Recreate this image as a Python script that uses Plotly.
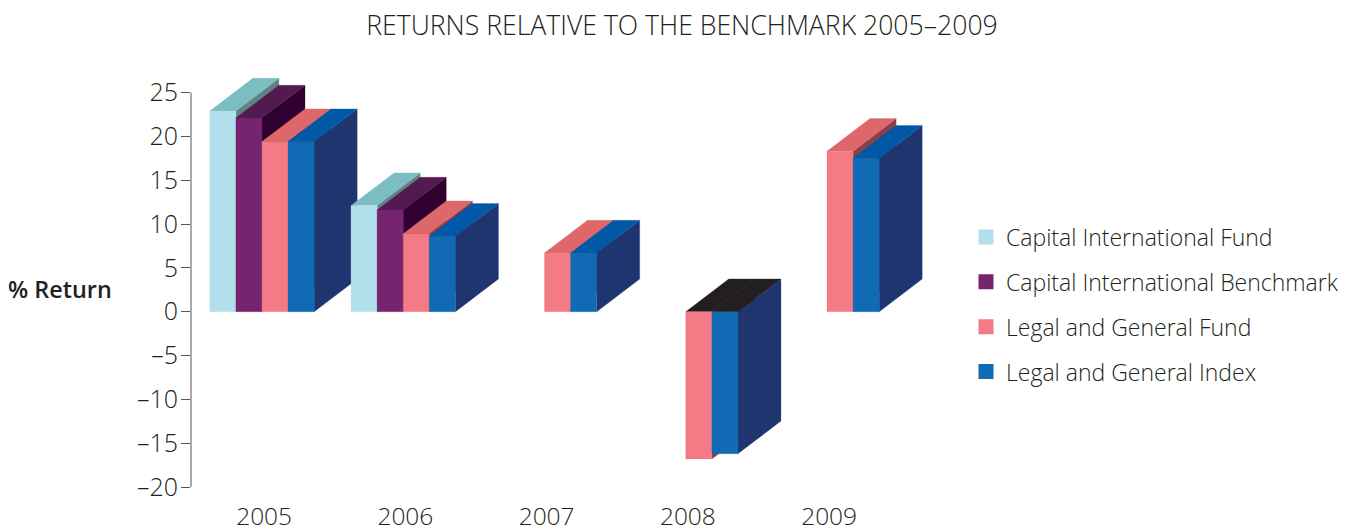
import plotly.graph_objects as go

TITLE = "RETURNS RELATIVE TO THE BENCHMARK 2005–2009"
YEARS = [2005, 2006, 2007, 2008, 2009]
SERIES = ["Capital International Fund", "Capital International Benchmark",
          "Legal and General Fund", "Legal and General Index"]
CAPITAL_FUND = [22.9, 12.1, None, None, None]
CAPITAL_BENCH = [22.1, 11.6, None, None, None]
LEGAL_FUND = [19.4, 8.9, 6.7, -16.8, 18.3]
LEGAL_INDEX = [19.4, 8.6, 6.7, -16.2, 17.5]
VALUES = [CAPITAL_FUND, CAPITAL_BENCH, LEGAL_FUND, LEGAL_INDEX]

Y_TICKS = [25, 20, 15, 10, 5, 0, -5, -10, -15, -20]
Y_LABELS = ["25", "20", "15", "10", "5", "0", "–5", "–10", "–15", "–20"]

FRONT = ["#b1e0ec", "#77246f", "#f47b85", "#106ab4"]
TOP = ["#7cbdc2", "#521a50", "#de676a", "#0058a6"]
SIDE = ["#5f8285", "#2f0030", "#8b3f48", "#1e3570"]
TOP_NEG = "#231f20"
INK = "#231f20"
AXIS = "#555555"
FONT = "Open Sans"

# geometry, in axis units
PX_X = 141.25           # px per year
BAR = 26.1 / PX_X       # bar width
DX = 43 / PX_X          # depth offset, x
DY = 3.73               # depth offset, y
Y_MAX = 27              # head-room for the depth faces above the 25 tick
X_MIN = 2005 - 71 / PX_X

fig = go.Figure()


def poly(xs, ys, color):
    fig.add_trace(go.Scatter(
        x=xs + xs[:1], y=ys + ys[:1], mode="lines", fill="toself",
        fillcolor=color, line=dict(color=color, width=0.3),
        showlegend=False, hoverinfo="skip"))


for yi, year in enumerate(YEARS):
    for si in range(4):
        v = VALUES[si][yi]
        if v is None:
            continue
        x0 = year + (si - 2) * BAR
        x1 = x0 + BAR
        hi = max(v, 0)
        lo = min(v, 0)
        poly([x1, x1 + DX, x1 + DX, x1], [lo, lo + DY, hi + DY, hi], SIDE[si])
        poly([x0, x1, x1 + DX, x0 + DX], [hi, hi, hi + DY, hi + DY],
             TOP[si] if v >= 0 else TOP_NEG)
        poly([x0, x1, x1, x0], [lo, lo, hi, hi], FRONT[si])

for si, name in enumerate(SERIES):
    fig.add_trace(go.Scatter(
        x=[None], y=[None], mode="markers", name=name, legendgroup=name,
        marker=dict(symbol="square", size=15, color=FRONT[si])))

fig.update_layout(
    width=1362, height=532,
    margin=dict(l=191, r=412, t=75.2, b=45.3, autoexpand=False),
    paper_bgcolor="white", plot_bgcolor="white",
    font=dict(family=FONT, color=INK, size=22),
    title=dict(text=TITLE, x=682 / 1362, xanchor="center", y=1 - 26 / 532, yanchor="middle",
               font=dict(family=FONT, size=26.6, color=INK, weight=300)),
    xaxis=dict(range=[X_MIN, X_MIN + 759 / PX_X],
               tickvals=[y + 0.015 for y in YEARS], ticktext=[str(y) for y in YEARS],
               showgrid=False, zeroline=False, showline=False, ticks="", automargin=False,
               ticklabelstandoff=12, tickfont=dict(size=24.5, color=INK, weight=300)),
    yaxis=dict(range=[-20, Y_MAX], tickvals=Y_TICKS, ticktext=Y_LABELS, automargin=False,
               showgrid=False, zeroline=False, showline=False,
               ticks="outside", ticklen=9, tickcolor=AXIS, tickwidth=1, ticklabelstandoff=-2,
               tickfont=dict(size=25, color=INK, weight=300)),
    shapes=[dict(type="line", xref="x domain", yref="y", x0=0, x1=0, y0=-20, y1=25,
                 line=dict(color=AXIS, width=1), layer="above")],
    legend=dict(x=(966 - 191) / 759, xref="paper", y=(486.7 - 215.5) / 411.5, yref="paper",
                xanchor="left", yanchor="top",
                tracegroupgap=12, font=dict(size=23, color=INK, weight=300), bgcolor="rgba(0,0,0,0)",
                itemclick=False, itemdoubleclick=False),
    annotations=[dict(text="% Return", xref="paper", yref="paper", x=-182 / 759, y=(486.7 - 289) / 411.5,
                      xanchor="left", yanchor="middle", showarrow=False, xshift=-3,
                      font=dict(family=FONT, size=23.4, color=INK, weight=600))],
)

fig.write_html("out.html", config=dict(displayModeBar=False),
               post_script="document.body.style.margin='0';")
